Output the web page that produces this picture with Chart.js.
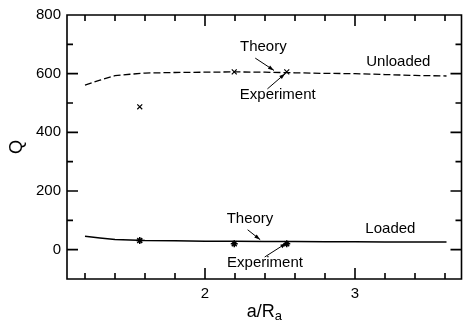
<!DOCTYPE html>
<html>
<head>
<meta charset="utf-8">
<title>Q vs a/Ra</title>
<script src="https://cdn.jsdelivr.net/npm/chart.js"></script>
<style>
  body { margin: 0; background: #fff; }
  #wrap { width: 467px; height: 326px; }
</style>
</head>
<body>
<div id="wrap"><canvas id="q-chart"></canvas></div>
<script>
// theory curves, Q against a/Ra
const theoryX = [1.2, 1.3, 1.4, 1.5, 1.6, 1.8, 2.0, 2.2, 2.4, 2.6, 2.8, 3.0, 3.2, 3.4, 3.61]
const unloadedTheory = [561, 578, 593, 598, 602, 604, 605, 606, 605, 603, 601, 600, 597, 594, 592]
const loadedTheory = [46, 40, 35, 33, 31, 30, 29, 29, 28, 28, 27, 27, 26, 26, 26]

// measured points
const expX = [1.565, 2.195, 2.545]
const unloadedExp = [487, 606, 606]
const loadedExp = [31, 20, 20]

const xTicks = [2, 3]
const yTicks = [0, 200, 400, 600, 800]

// labels: text, a/Ra, Q
const notes = [
    ['Theory', 2.389, 690],
    ['Experiment', 2.485, 528],
    ['Unloaded', 3.289, 640],
    ['Theory', 2.30, 104],
    ['Experiment', 2.40, -45],
    ['Loaded', 3.236, 72]
]
// arrows: from (x, Q) to (x, Q)
const arrows = [
    [2.335, 653, 2.460, 611],
    [2.416, 548, 2.534, 600],
    [2.284, 68, 2.368, 34],
    [2.398, -25, 2.542, 22]
]

const FONT = '"Liberation Sans", Arial, Helvetica, sans-serif'

function pts(xs, ys) {
    return xs.map((x, i) => ({x: x, y: ys[i]}))
}

const framePlugin = {
    id: 'frame',
    afterDraw(chart) {
        const c = chart.ctx
        const a = chart.chartArea
        const xs = chart.scales.x
        const ys = chart.scales.y
        c.save()
        c.setLineDash([])
        c.strokeStyle = '#000'
        c.fillStyle = '#000'
        c.lineWidth = 1.6

        c.beginPath()
        c.rect(a.left, a.top, a.right - a.left, a.bottom - a.top)
        // inward ticks, x every 0.2 (long at integers)
        for (let i = 6; i <= 18; i++) {
            const px = xs.getPixelForValue(i / 5)
            const len = i % 5 === 0 ? 11 : 6
            c.moveTo(px, a.bottom)
            c.lineTo(px, a.bottom - len)
            c.moveTo(px, a.top)
            c.lineTo(px, a.top + len)
        }
        // y every 100 (long every 200)
        for (let i = 0; i <= 7; i++) {
            const py = ys.getPixelForValue(i * 100)
            const len = i % 2 === 0 ? 11 : 6
            c.moveTo(a.left, py)
            c.lineTo(a.left + len, py)
            c.moveTo(a.right, py)
            c.lineTo(a.right - len, py)
        }
        c.stroke()

        // annotations
        c.font = '15px ' + FONT
        c.textAlign = 'center'
        c.textBaseline = 'middle'
        notes.forEach(n => {
            c.fillText(n[0], xs.getPixelForValue(n[1]), ys.getPixelForValue(n[2]))
        })

        c.lineWidth = 1
        arrows.forEach(r => {
            const ax = xs.getPixelForValue(r[0]), ay = ys.getPixelForValue(r[1])
            const bx = xs.getPixelForValue(r[2]), by = ys.getPixelForValue(r[3])
            c.beginPath()
            c.moveTo(ax, ay)
            c.lineTo(bx, by)
            c.stroke()
            const ang = Math.atan2(by - ay, bx - ax)
            const cs = Math.cos(ang), sn = Math.sin(ang)
            c.beginPath()
            c.moveTo(bx, by)
            c.lineTo(bx - 6 * cs + 2 * sn, by - 6 * sn - 2 * cs)
            c.lineTo(bx - 6 * cs - 2 * sn, by - 6 * sn + 2 * cs)
            c.closePath()
            c.fill()
        })

        // x axis title a/Ra
        c.textAlign = 'left'
        c.textBaseline = 'alphabetic'
        c.font = '18px ' + FONT
        const w1 = c.measureText('a/R').width
        c.font = '13px ' + FONT
        const w2 = c.measureText('a').width
        const left = (a.left + a.right) / 2 - (w1 + w2) / 2
        c.font = '18px ' + FONT
        c.fillText('a/R', left, 317)
        c.font = '13px ' + FONT
        c.fillText('a', left + w1, 320)
        c.restore()
    }
}

const ctx = document.getElementById('q-chart')

new Chart(ctx, {
    type: 'scatter',
    data: {
        datasets: [
            {
                label: 'Unloaded theory',
                data: pts(theoryX, unloadedTheory),
                showLine: true,
                borderColor: '#000',
                borderWidth: 1.3,
                borderDash: [7, 3],
                pointRadius: 0
            },
            {
                label: 'Loaded theory',
                data: pts(theoryX, loadedTheory),
                showLine: true,
                borderColor: '#000',
                borderWidth: 1.5,
                pointRadius: 0
            },
            {
                label: 'Unloaded experiment',
                data: pts(expX, unloadedExp),
                pointStyle: 'crossRot',
                pointRadius: 3.5,
                borderColor: '#000',
                borderWidth: 1.2
            },
            {
                label: 'Loaded experiment',
                data: pts(expX, loadedExp),
                pointStyle: 'star',
                pointRadius: 3.5,
                borderColor: '#000',
                borderWidth: 1.5
            }
        ]
    },
    options: {
        animation: false,
        responsive: true,
        maintainAspectRatio: false,
        layout: { padding: { top: 13, right: 1, left: 0, bottom: 0 } },
        plugins: {
            legend: { display: false },
            tooltip: { enabled: false }
        },
        scales: {
            x: {
                type: 'linear',
                min: 1.08,
                max: 3.71,
                afterFit: s => { s.height = 47 },
                afterBuildTicks: s => { s.ticks = xTicks.map(v => ({value: v})) },
                grid: { display: false, drawTicks: false },
                border: { display: false },
                ticks: { color: '#000', padding: 6, maxRotation: 0, font: { family: FONT, size: 15 } }
            },
            y: {
                min: -100,
                max: 800,
                afterFit: s => { s.width = 67 },
                afterBuildTicks: s => { s.ticks = yTicks.map(v => ({value: v})) },
                grid: { display: false, drawTicks: false },
                border: { display: false },
                ticks: { color: '#000', padding: 6, font: { family: FONT, size: 15 } },
                title: { display: true, text: 'Q', color: '#000', padding: { top: 6 }, font: { family: FONT, size: 18 } }
            }
        }
    },
    plugins: [framePlugin]
})
</script>
</body>
</html>
